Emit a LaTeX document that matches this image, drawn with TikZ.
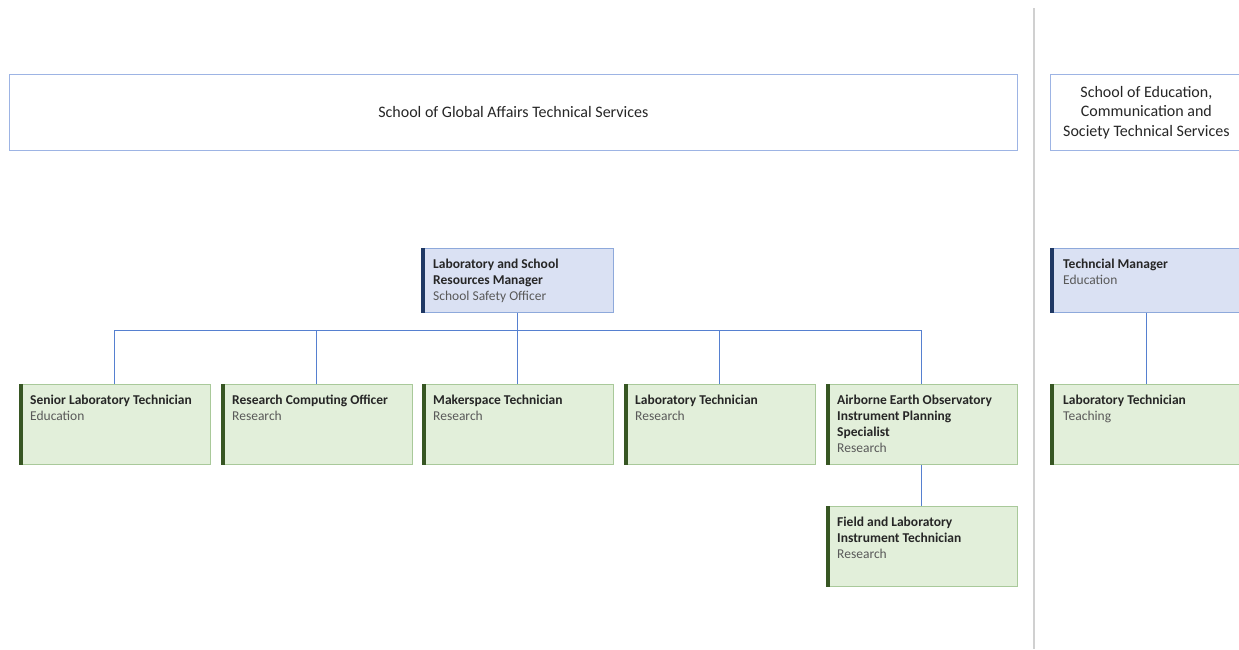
\documentclass[tikz,border=0pt]{standalone}
\usepackage{fontspec}
\setmainfont{Carlito}
\definecolor{hdrline}{HTML}{9DB4E4}
\definecolor{mgrfill}{HTML}{DAE1F3}
\definecolor{mgrline}{HTML}{8EA9DB}
\definecolor{mgrbar}{HTML}{1F3864}
\definecolor{staffill}{HTML}{E2EFDA}
\definecolor{staffline}{HTML}{A9C99A}
\definecolor{staffbar}{HTML}{375623}
\definecolor{link}{HTML}{5680D0}
\definecolor{maintxt}{HTML}{262626}
\definecolor{subtxt}{HTML}{595959}
\definecolor{divider}{HTML}{D0D0D0}
\tikzset{
  header/.style={draw=hdrline, line width=0.8pt, fill=white, anchor=north west, inner sep=0pt,
    font=\fontsize{16}{19.5}\selectfont, align=center, text=maintxt},
  mgrbox/.style={draw=mgrline, line width=0.8pt, fill=mgrfill, anchor=north west, inner sep=0pt,
    minimum width=192pt, minimum height=64pt},
  staffbox/.style={draw=staffline, line width=0.8pt, fill=staffill, anchor=north west, inner sep=0pt,
    minimum width=191pt, minimum height=80pt},
  boxtext/.style={anchor=north west, inner sep=0pt, align=left, text=maintxt,
    font=\fontsize{13.5}{16}\selectfont},
  link/.style={draw=link, line width=1pt},
}
\newcommand{\role}[2]{\textbf{#1}\\\textcolor{subtxt}{#2}}
\begin{document}
\begin{tikzpicture}[x=1pt,y=-1pt]
\useasboundingbox (0,0) rectangle (1239,649);
\begin{scope}
\clip (0,0) rectangle (1239,649);

% divider between the two schools
\draw[divider, line width=1.2pt] (1034,8) -- (1034,649);

% school headers
\node[header, minimum width=1008pt, minimum height=76pt] (gah) at (9,74)
  {School of Global Affairs Technical Services};
\node[header, minimum width=192pt, minimum height=76pt] (ecs) at (1050,74)
  {School of Education,\\Communication and\\Society Technical Services};

% managers
\node[mgrbox] (lsrm) at (421,248) {};
\node[mgrbox] (tm) at (1050,248) {};

% staff
\node[staffbox] (slt) at (19,384) {};
\node[staffbox] (rco) at (221,384) {};
\node[staffbox] (mst) at (422,384) {};
\node[staffbox] (lt) at (624,384) {};
\node[staffbox] (aeo) at (826,384) {};
\node[staffbox] (fli) at (826,506) {};
\node[staffbox, minimum width=192pt] (ltt) at (1050,384) {};

% accent bars on the left edge of each box
\foreach \n in {lsrm,tm}
  \fill[mgrbar] (\n.north west) rectangle ([xshift=3.5pt]\n.south west);
\foreach \n in {slt,rco,mst,lt,aeo,fli,ltt}
  \fill[staffbar] (\n.north west) rectangle ([xshift=3.5pt]\n.south west);

% box texts
\node[boxtext] at ([xshift=12pt,yshift=-11pt]lsrm.north west)
  {\textbf{Laboratory and School}\\\role{Resources Manager}{School Safety Officer}};
\node[boxtext] at ([xshift=13pt,yshift=-11pt]tm.north west) {\role{Techncial Manager}{Education}};
\node[boxtext] at ([xshift=11pt,yshift=-11pt]slt.north west) {\role{Senior Laboratory Technician}{Education}};
\node[boxtext] at ([xshift=11pt,yshift=-11pt]rco.north west) {\role{Research Computing Officer}{Research}};
\node[boxtext] at ([xshift=11pt,yshift=-11pt]mst.north west) {\role{Makerspace Technician}{Research}};
\node[boxtext] at ([xshift=11pt,yshift=-11pt]lt.north west) {\role{Laboratory Technician}{Research}};
\node[boxtext] at ([xshift=11pt,yshift=-11pt]aeo.north west)
  {\textbf{Airborne Earth Observatory}\\\textbf{Instrument Planning}\\\role{Specialist}{Research}};
\node[boxtext] at ([xshift=11pt,yshift=-11pt]fli.north west)
  {\textbf{Field and Laboratory}\\\role{Instrument Technician}{Research}};
\node[boxtext] at ([xshift=13pt,yshift=-11pt]ltt.north west) {\role{Laboratory Technician}{Teaching}};

% reporting lines
\coordinate (bus) at ([yshift=-18pt]lsrm.south);
\draw[link] (lsrm.south) -- (bus);
\foreach \n in {slt,rco,mst,lt,aeo}
  \draw[link] (bus) -| (\n.north);
\draw[link] (aeo.south) -- (fli.north);
\draw[link] (tm.south) -- (ltt.north);
\end{scope}
\end{tikzpicture}
\end{document}
